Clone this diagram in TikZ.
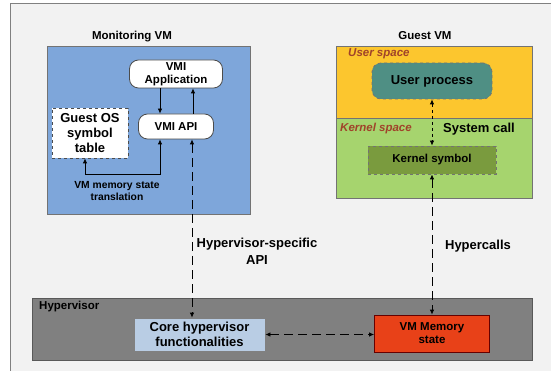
\documentclass[tikz,border=0pt]{standalone}
\usepackage{fontspec}
\setmainfont{Liberation Sans}
\usetikzlibrary{arrows.meta}
\newcommand{\fbig}  {\fontsize{13}{15}\selectfont\bfseries}
\newcommand{\fmid}  {\fontsize{11.5}{13}\selectfont\bfseries}
\newcommand{\fsmall}{\fontsize{10.3}{12}\selectfont\bfseries}
\definecolor{bgcol}{HTML}{F2F2F2}
\definecolor{framecol}{HTML}{808080}
\definecolor{moncol}{HTML}{7EA6DA}
\definecolor{usercol}{HTML}{FCC62E}
\definecolor{kerncol}{HTML}{A6D46E}
\definecolor{proccol}{HTML}{4F8F84}
\definecolor{ksymcol}{HTML}{7A9B3E}
\definecolor{hypcol}{HTML}{808080}
\definecolor{corecol}{HTML}{B9CDE4}
\definecolor{memcol}{HTML}{E84118}
\definecolor{spacecol}{HTML}{A0432A}
\tikzset{
  box/.style={draw=#1,line width=0.8pt,inner sep=0pt,align=center},
  box/.default={black!70},
  roundbox/.style={box,rounded corners=9pt,fill=white},
  lbl/.style={inner sep=0pt,align=center},
  longdash/.style={dash pattern=on 9pt off 5pt},
  onearrow/.style={-{Latex[length=5pt,width=4.5pt]},line width=0.8pt},
  twoarrow/.style={{Latex[length=5pt,width=4.5pt]}-{Latex[length=5pt,width=4.5pt]},line width=0.8pt}
}

\begin{document}
\begin{tikzpicture}[x=1pt,y=-1pt]
   \useasboundingbox (0,0) rectangle (551,371);
   \fill[bgcol] (10,4) rectangle (551,371);
   \draw[framecol,line width=1pt] (10,371) -- (10,4) -- (551,4);

   \node[box=black!55,fill=moncol,minimum width=203pt,minimum height=168pt] (mon) at (148.5,130) {};
   \node[lbl,font=\fmid] (montitle) at (132,37) {Monitoring VM};
   \node[roundbox,font=\fmid,minimum width=93pt,minimum height=28pt] (app) at (176,74) {VMI\\Application};
   \node[roundbox,font=\fmid,minimum width=75pt,minimum height=25pt] (api) at (176,126.5) {VMI API};
   \node[box,dashed,fill=white,font=\fbig,minimum width=76pt,minimum height=50pt] (sym) at (90,133) {Guest OS\\symbol\\table};
   \node[lbl,font=\fsmall] (trans) at (117,191) {VM memory state\\translation};

   \node[box=black!55,fill=usercol,minimum width=196pt,minimum height=72pt] (user) at (434,82) {};
   \node[box=black!55,fill=kerncol,minimum width=196pt,minimum height=80pt] (kern) at (434,158) {};
   \node[lbl,font=\fmid] (guesttitle) at (425,36) {Guest VM};
   \node[lbl,anchor=west,text=spacecol,font=\fmid\itshape] (userlbl) at (348,54) {User space};
   \node[lbl,anchor=west,text=spacecol,font=\fmid\itshape] (kernlbl) at (340,129) {Kernel space};
   \node[lbl,anchor=west,font=\fbig] (syscall) at (443,129) {System call};
   \node[box=black!55,dashed,rounded corners=9pt,fill=proccol,font=\fbig,minimum width=120pt,minimum height=36pt] (proc) at (432,81) {User process};
   \node[box=black!55,dashed,fill=ksymcol,font=\fmid,minimum width=128pt,minimum height=28pt] (ksym) at (432,160) {Kernel symbol};

   \node[box=black!65,fill=hypcol,minimum width=500pt,minimum height=62pt] (hyp) at (282,329) {};
   \node[lbl,anchor=west,font=\fmid] (hyplbl) at (39,307) {Hypervisor};
   \node[box=black!50,fill=corecol,font=\fbig,minimum width=131pt,minimum height=33pt] (core) at (199.5,334.5) {Core hypervisor\\functionalities};
   \node[box=red!40!black,fill=memcol,font=\fmid,minimum width=115pt,minimum height=37pt] (mem) at (432,333.5) {VM Memory\\state};

   \node[lbl,font=\fbig] (apilbl) at (257,251) {Hypervisor-specific\\[2pt]API};
   \node[lbl,font=\fbig] (hcalls) at (478,246) {Hypercalls};

   \draw[onearrow] ([xshift=-16pt]app.south) -- ([xshift=-16pt]api.north);
   \draw[onearrow] ([xshift=17pt]api.north) -- ([xshift=17pt]app.south);
   \draw[twoarrow] ([xshift=-16pt]api.south) -- ++(0,35) -| ([xshift=-5pt]sym.south);
   \draw[twoarrow,longdash] ([xshift=16pt]api.south) -- ([xshift=16pt]api.south |- core.north);
   \draw[twoarrow,dashed] (proc.south) -- (ksym.north);
   \draw[twoarrow,longdash] (ksym.south) -- (ksym.south |- mem.north);
   \draw[twoarrow,longdash] (core.east) -- (core.east -| mem.west);
  \end{tikzpicture}
\end{document}
